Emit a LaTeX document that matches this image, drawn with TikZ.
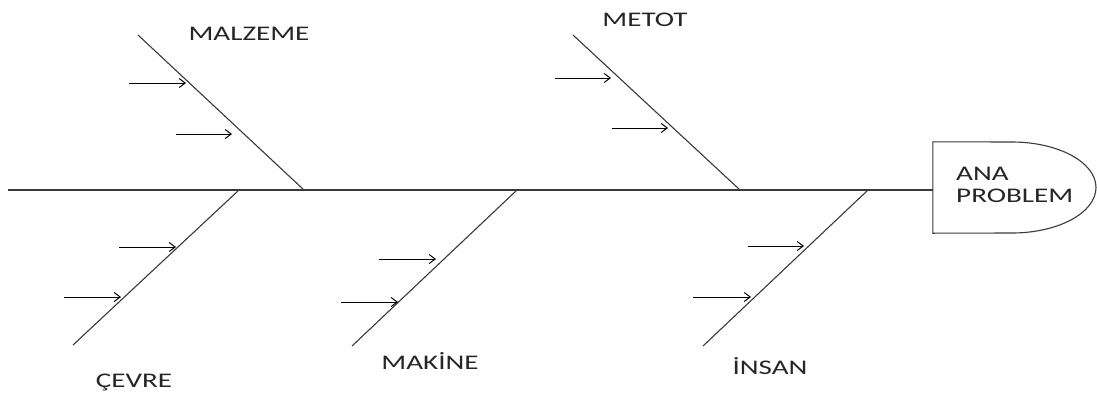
\documentclass[tikz,border=0pt]{standalone}
\usepackage{fontspec}
\newfontfamily\lblfont[FakeStretch=1.4]{Carlito}
\usetikzlibrary{arrows.meta}
\definecolor{bonecol}{HTML}{3A3A3A}
\definecolor{txtcol}{HTML}{262626}
\tikzset{
  bone/.style={draw=bonecol, line width=1.1pt},
  cause/.style={draw=black, line width=1pt, -{Straight Barb[length=6pt,width=9pt,line width=1pt]}},
  lbl/.style={font=\lblfont\fontsize{20.8}{22}\selectfont, text=txtcol, inner sep=0pt, anchor=base},
}
\begin{document}
\begin{tikzpicture}[x=1pt,y=-1pt]
\useasboundingbox[fill=white] (0,0) rectangle (1097,394);
% head
\node[minimum width=163pt, minimum height=91pt, inner sep=0pt] (head) at (1014.5,187.5) {};
\draw[bone] (head.north west) -- (1012,142) arc[start angle=-90, end angle=90, x radius=84, y radius=45.5] -- (head.south west) -- cycle;
\node[lbl, anchor=base west, align=left] (headtxt) at (956,202) {ANA\\PROBLEM};
% spine
\coordinate (tail) at (8,190);
\draw[bone] (tail) -- (head.west |- tail);
% bone endpoints
\coordinate (m1) at (138,35);  \coordinate (m2) at (304,190);
\coordinate (t1) at (573,35);  \coordinate (t2) at (740,190);
\coordinate (c1) at (239,190); \coordinate (c2) at (73,345);
\coordinate (k1) at (517,190); \coordinate (k2) at (352,346);
\coordinate (i1) at (868,190); \coordinate (i2) at (703,346);
\draw[bone] (m1) -- (m2);
\draw[bone] (t1) -- (t2);
\draw[bone] (c1) -- (c2);
\draw[bone] (k1) -- (k2);
\draw[bone] (i1) -- (i2);
% cause arrows
\coordinate (ma1) at (129,83);  \coordinate (mb1) at (186,83);
\coordinate (ma2) at (176,134); \coordinate (mb2) at (232,134);
\coordinate (ta1) at (555,78);  \coordinate (tb1) at (611,78);
\coordinate (ta2) at (612,128); \coordinate (tb2) at (668,128);
\coordinate (ca1) at (119,247); \coordinate (cb1) at (176,247);
\coordinate (ca2) at (64,297);  \coordinate (cb2) at (121,297);
\coordinate (ka1) at (379,259); \coordinate (kb1) at (436,259);
\coordinate (ka2) at (341,302); \coordinate (kb2) at (398,302);
\coordinate (ia1) at (748,246); \coordinate (ib1) at (804,246);
\coordinate (ia2) at (693,297); \coordinate (ib2) at (751,297);
\foreach \p in {m,t,c,k,i}{
  \draw[cause] (\p a1) -- (\p b1);
  \draw[cause] (\p a2) -- (\p b2);
}
% labels
\node[lbl] (lmalzeme) at (249,40) {MALZEME};
\node[lbl] (lmetot) at (645,26) {METOT};
\node[lbl] (lcevre) at (134,387) {ÇEVRE};
\node[lbl] (lmakine) at (430,369) {MAKİNE};
\node[lbl] (linsan) at (770,374) {İNSAN};
\end{tikzpicture}
\end{document}
